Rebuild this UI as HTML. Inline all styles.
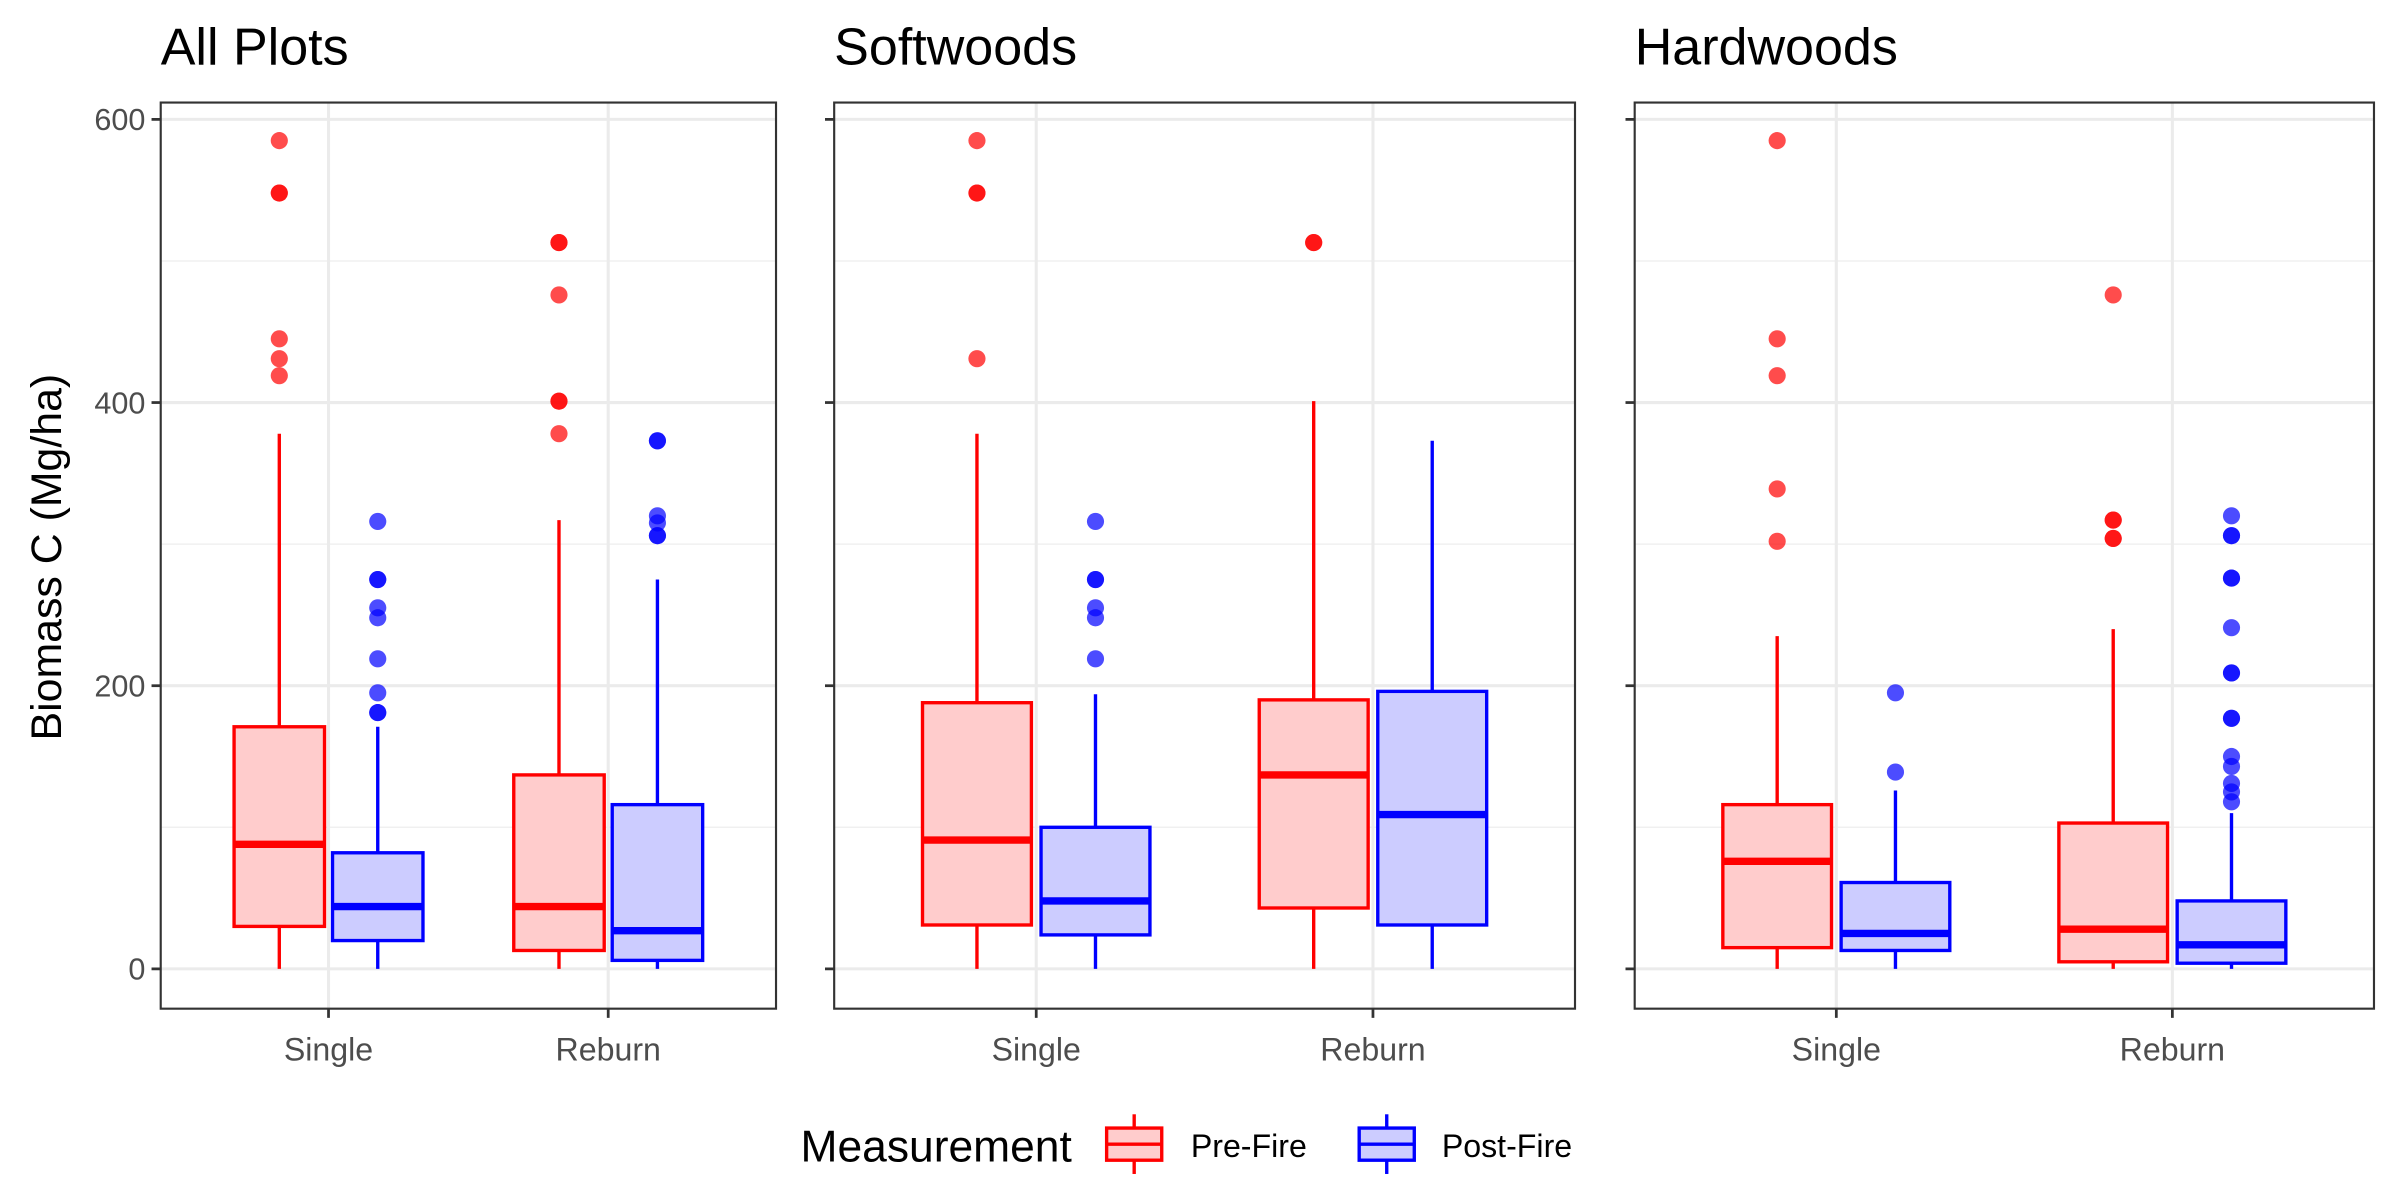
<!DOCTYPE html>
<html><head><meta charset="utf-8"><style>
html,body{margin:0;padding:0;background:#fff;}
svg{display:block;font-family:"Liberation Sans",Arial,sans-serif;}
</style></head><body>
<svg id="chart" width="2400" height="1200" viewBox="0 0 1568 784" preserveAspectRatio="none"></svg>
<script>
const panelTitles = ["All Plots","Softwoods","Hardwoods"];
const categories = ["Single","Reburn"];
const seriesNames = ["Pre-Fire","Post-Fire"];
const yTicks = [0,200,400,600];
const yMinor = [100,300,500];
// stats: [min, q1, median, q3, upperWhisker] per panel -> category -> series
const statsAll = [[[0,30,88,171,378],[0,20,44,82,171]],[[0,13,44,137,317],[0,6,27,116,275]]];
const statsSoft = [[[0,31,91,188,378],[0,24,48,100,194]],[[0,43,137,190,401],[0,31,109,196,373]]];
const statsHard = [[[0,15,76,116,235],[0,13,25,61,126]],[[0,5,28,103,240],[0,4,17,48,110]]];
const outAll = [[[585,548,548,445,431,419],[316,275,275,255,248,219,195,181,181]],[[513,513,476,401,401,378],[373,373,320,315,306,306]]];
const outSoft = [[[585,548,548,431],[316,275,275,255,248,219]],[[513,513],[]]];
const outHard = [[[585,445,419,339,302],[195,139]],[[476,317,317,304,304],[320,306,306,276,276,241,209,209,177,177,150,143,131,125,118]]];

const stats=[statsAll,statsSoft,statsHard], outs=[outAll,outSoft,outHard];
const panels=[{x0:105,x1:507},{x0:545,x1:1029},{x0:1068,x1:1551}];
const pTop=67,pBot=659;
const colors=["#ff0000","#0000ff"], fills=["#ffcccc","#ccccff"];
const y=v=>633-v*0.925;
const NS="http://www.w3.org/2000/svg";
const svg=document.getElementById('chart');
function el(t,a,p){const e=document.createElementNS(NS,t);for(const k in a)e.setAttribute(k,a[k]);(p||svg).appendChild(e);return e;}

panels.forEach((p,pi)=>{
  const w=p.x1-p.x0;
  const xc=ci=>p.x0+w*(0.6+ci)/2.2;
  const g=el('g',{});
  
  
  yMinor.forEach(v=>el('line',{x1:p.x0,x2:p.x1,y1:y(v),y2:y(v),stroke:'#f0f0f0','stroke-width':1},g));
  yTicks.forEach(v=>el('line',{x1:p.x0,x2:p.x1,y1:y(v),y2:y(v),stroke:'#ebebeb','stroke-width':2},g));
  categories.forEach((c,ci)=>el('line',{x1:xc(ci),x2:xc(ci),y1:pTop,y2:pBot,stroke:'#ebebeb','stroke-width':2},g));
  categories.forEach((c,ci)=>{
    seriesNames.forEach((s,si)=>{
      const st=stats[pi][ci][si];
      const bw=w*0.147;
      const cx=xc(ci)+(si===0?-1:1)*w*0.08;
      const bg=el('g',{},g);
      
      
      el('line',{x1:cx,x2:cx,y1:y(st[0]),y2:y(st[1]),stroke:colors[si],'stroke-width':2.2},bg);
      el('line',{x1:cx,x2:cx,y1:y(st[3]),y2:y(st[4]),stroke:colors[si],'stroke-width':2.2},bg);
      el('rect',{x:cx-bw/2,y:y(st[3]),width:bw,height:y(st[1])-y(st[3]),fill:fills[si],stroke:colors[si],'stroke-width':2.2},bg);
      el('line',{x1:cx-bw/2,x2:cx+bw/2,y1:y(st[2]),y2:y(st[2]),stroke:colors[si],'stroke-width':4.8},bg);
      outs[pi][ci][si].forEach(v=>{
        const o=el('circle',{cx:cx,cy:y(v),r:5.6,fill:colors[si],'fill-opacity':0.7},bg);
        
        
      });
    });
    const t=el('text',{x:xc(ci),y:693,'font-size':21,fill:'#4d4d4d','text-anchor':'middle'},g);
    t.textContent=c;
    
    
    el('line',{x1:xc(ci),x2:xc(ci),y1:pBot,y2:pBot+6,stroke:'#333','stroke-width':1.8},g);
  });
  el('rect',{x:p.x0,y:pTop,width:w,height:pBot-pTop,fill:'none',stroke:'#333','stroke-width':1.4},g);
  yTicks.forEach(v=>{
    el('line',{x1:p.x0-6,x2:p.x0,y1:y(v),y2:y(v),stroke:'#333','stroke-width':1.8},g);
    if(pi===0){const t=el('text',{x:p.x0-10,y:y(v)+7,'font-size':20,fill:'#4d4d4d','text-anchor':'end'},g);t.textContent=v;
      }
  });
  const tt=el('text',{x:p.x0,y:42,'font-size':34,fill:'#000'},g);
  tt.textContent=panelTitles[pi];
  
  
});
const yt=el('text',{x:0,y:0,'font-size':28,fill:'#000','text-anchor':'middle',transform:'translate(40,364) rotate(-90)'});
yt.textContent='Biomass C (Mg/ha)';


const lg=el('g',{});


const lt=el('text',{x:523,y:759,'font-size':29,fill:'#000'},lg);lt.textContent='Measurement';
[[741,778],[906,942]].forEach((pos,si)=>{
  const e=el('g',{},lg);
  
  
  const cx=pos[0];
  el('line',{x1:cx,x2:cx,y1:728,y2:767,stroke:colors[si],'stroke-width':2.2},e);
  el('rect',{x:cx-18,y:737,width:36,height:21,fill:fills[si],stroke:colors[si],'stroke-width':2.2},e);
  el('line',{x1:cx-18,x2:cx+18,y1:747.5,y2:747.5,stroke:colors[si],'stroke-width':2.2},e);
  const t=el('text',{x:pos[1],y:756,'font-size':21,fill:'#000'},e);t.textContent=seriesNames[si];
});
</script>
</body></html>
